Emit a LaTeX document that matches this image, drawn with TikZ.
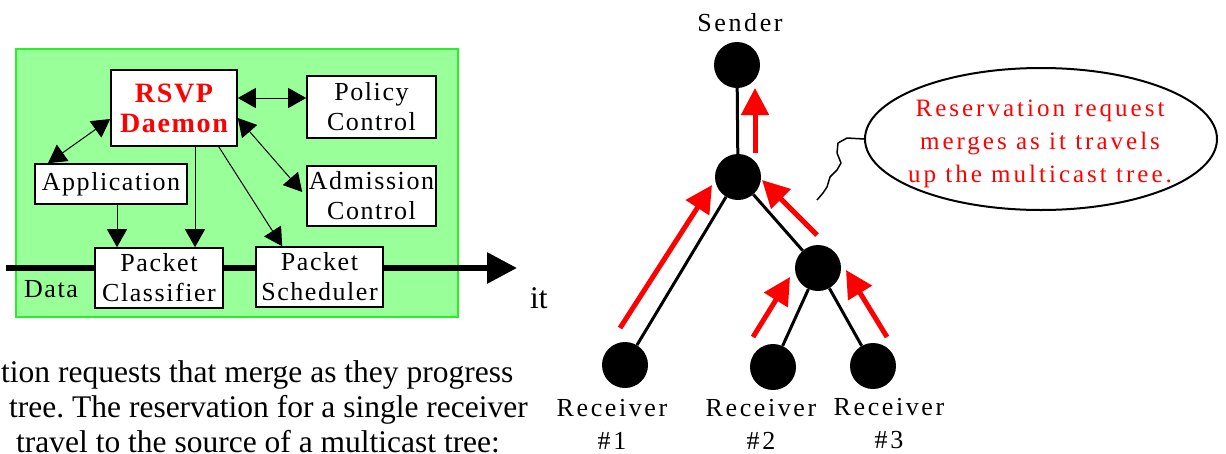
\documentclass[tikz,border=0pt]{standalone}
\usepackage{fontspec}
\setmainfont{Liberation Serif}
\usetikzlibrary{arrows.meta,shapes.geometric}
\definecolor{panelfill}{RGB}{153,255,153}
\definecolor{panelborder}{RGB}{40,240,40}
\definecolor{rsvpred}{RGB}{255,0,0}
\frenchspacing
\begin{document}
\begin{tikzpicture}[x=1pt,y=-1pt,
  boxfnt/.style={font={\fontspec{Liberation Serif}[LetterSpace=6]\fontsize{26}{30}\selectfont}},
  box/.style={draw=black, line width=1.6pt, fill=white, inner sep=0pt, align=center, boxfnt},
  link/.style={line width=1pt, -{Triangle[length=18pt,width=20pt]}},
  bilink/.style={line width=1pt, {Triangle[length=18pt,width=20pt]}-{Triangle[length=18pt,width=20pt]}},
  treenode/.style={circle, fill=black, minimum size=46pt, inner sep=0pt},
  edge/.style={line width=3pt},
  redarrow/.style={draw=rsvpred, line width=5pt, -{Triangle[length=27pt,width=27pt]}},
  lbl/.style={font={\fontspec{Liberation Serif}[LetterSpace=10]\fontsize{26}{33}\selectfont}, align=center},
  bubblefnt/.style={font={\fontspec{Liberation Serif}[LetterSpace=12]\fontsize{25}{33}\selectfont}},
  rsvpfnt/.style={font={\fontspec{Liberation Serif}[LetterSpace=6]\bfseries\fontsize{28}{30}\selectfont}},
  prose/.style={font=\fontsize{31.5}{35}\selectfont, anchor=base west, inner sep=0pt}
]
\useasboundingbox (0,0) rectangle (1226,453);
\clip (0,0) rectangle (1226,453);

% ---------- left panel ----------
\node[draw=panelborder, fill=panelfill, line width=2.5pt, minimum width=442pt,
      minimum height=268pt, inner sep=0pt] (panel) at (237,183) {};
\coordinate (datain) at (6,268);
\coordinate (dataout) at (517,268);
\draw[line width=6pt, -{Triangle[length=30pt,width=30pt]}] (datain) -- (dataout);
\node[boxfnt, inner sep=0pt] (data) at (51,289) {Data};

\node[box, minimum width=126pt, minimum height=76pt, text=rsvpred, rsvpfnt] (rsvp) at (174,108) {RSVP\\Daemon};
\node[box, minimum width=129pt, minimum height=62pt] (policy) at (371.5,107) {Policy\\Control};
\node[box, minimum width=152pt, minimum height=40pt] (app) at (111,184) {Application};
\node[box, minimum width=129pt, minimum height=60pt] (adm) at (371.5,196) {Admission\\Control};
\node[box, minimum width=128pt, minimum height=60pt] (cls) at (159,278) {Packet\\Classifier};
\node[box, minimum width=127pt, minimum height=60pt] (sch) at (319.5,277) {Packet\\Scheduler};

\draw[bilink] ([yshift=10pt]rsvp.east) -- ([yshift=9pt]policy.west);
\draw[bilink] ([yshift=-11pt]rsvp.west) -- ([xshift=-63pt]app.north);
\draw[bilink] ([yshift=-10pt]rsvp.east) -- ([xshift=-4pt,yshift=4pt]adm.west);
\draw[link] ([xshift=-19pt]rsvp.south east) -- ([xshift=27pt]sch.north west);
\draw[link] ([xshift=21pt]rsvp.south) -- ([xshift=21pt]rsvp.south |- cls.north);
\draw[link] ([xshift=6pt]app.south) -- ([xshift=6pt]app.south |- cls.north);

% ---------- prose ----------
\node[prose] (p1) at (1,382) {tion requests that merge as they progress};
\node[prose] (p2) at (9,417) {tree. The reservation for a single receiver};
\node[prose] (p3) at (16,452) {travel to the source of a multicast tree:};
\node[prose] (it) at (530,308) {it};

% ---------- tree ----------
\node[lbl] (sendlbl) at (740,23) {Sender};
\node[treenode] (s) at (737,65) {};
\node[treenode] (m) at (738,177) {};
\node[treenode] (rm) at (818,268) {};
\node[treenode] (r1) at (625,365) {};
\node[treenode] (r2) at (773,367) {};
\node[treenode] (r3) at (873,366) {};
\draw[edge] (s) -- (m);
\draw[edge] (m) -- (r1);
\draw[edge] (m) -- (rm);
\draw[edge] (rm) -- (r2);
\draw[edge] (rm) -- (r3);

\node[lbl] (l1) at (612,424) {Receiver\\\#1};
\node[lbl] (l2) at (761,424) {Receiver\\\#2};
\node[lbl] (l3) at (889,424) {Receiver\\\#3};

\coordinate (a0s) at (755,153); \coordinate (a0e) at (755,88);
\coordinate (a1s) at (620,328); \coordinate (a1e) at (712,185);
\coordinate (a2s) at (817,235); \coordinate (a2e) at (762,180);
\coordinate (a3s) at (753,337); \coordinate (a3e) at (790,277);
\coordinate (a4s) at (887,337); \coordinate (a4e) at (846,270);
\draw[redarrow] (a0s) -- (a0e);
\draw[redarrow] (a1s) -- (a1e);
\draw[redarrow] (a2s) -- (a2e);
\draw[redarrow] (a3s) -- (a3e);
\draw[redarrow] (a4s) -- (a4e);

% ---------- bubble ----------
\node[ellipse, draw, line width=2pt, minimum width=352pt, minimum height=142pt,
      inner sep=0pt] (bubble) at (1041,139) {};
\node[text=rsvpred, bubblefnt, align=center] (bubbletext)
      at (1040,144) {Reservation request\\merges as it travels\\up the multicast tree.};
\coordinate (tailend) at (817,200);
\draw[line width=1.5pt, line join=round] (bubble.west) -- (847,138) -- (838,143) -- (837,153)
   -- (841,163) -- (837,170) -- (830,177) -- (827,187) -- (823,193) -- (tailend);
\end{tikzpicture}
\end{document}
